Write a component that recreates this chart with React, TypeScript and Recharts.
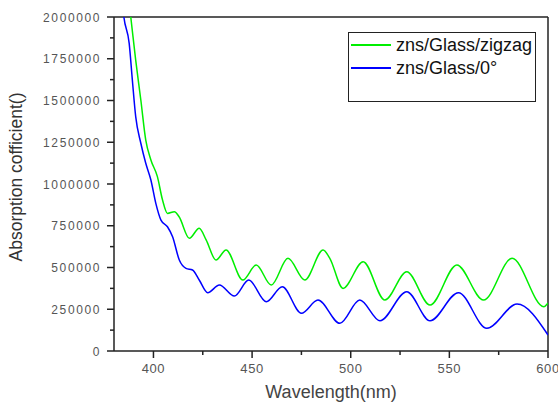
import React from 'react';
import { LineChart, Line, XAxis, YAxis, ReferenceLine, Legend } from 'recharts';

const greenName = 'zns/Glass/zigzag';
const blueName = 'zns/Glass/0°';

const greenWavelength = [387, 388.5, 391, 393.6, 396.1, 398.7, 402, 404.6, 407.1, 410.6, 413, 418.2, 423.2, 426.7, 431.7, 436.8, 445.3, 452.1, 459.7, 468.2, 476.7, 486, 489.4, 496.1, 506.3, 517.3, 528.4, 540.2, 553.8, 567.3, 581.8, 597.9, 600];
const greenValues = [2150000, 2000000, 1742000, 1503000, 1263000, 1144000, 1044000, 904000, 824000, 834000, 804000, 675000, 735000, 665000, 545000, 605000, 425000, 515000, 395000, 555000, 425000, 605000, 555000, 375000, 535000, 305000, 475000, 275000, 515000, 305000, 555000, 265000, 287000];

const blueWavelength = [383, 385, 387.7, 389.3, 391, 393.6, 396.1, 398.7, 401.2, 403.8, 407.1, 409.7, 413.1, 416.5, 419.8, 423.2, 427.5, 433.4, 441, 448.3, 457.2, 465.3, 475, 483.4, 494.5, 504.6, 514.8, 528.4, 540.2, 554.6, 569, 584.3, 600];
const blueValues = [2250000, 2000000, 1842000, 1623000, 1403000, 1244000, 1124000, 1024000, 884000, 784000, 744000, 684000, 545000, 495000, 485000, 425000, 349000, 395000, 329000, 425000, 295000, 385000, 226000, 305000, 166000, 305000, 181000, 355000, 181000, 349000, 136000, 281000, 96000];

const xTicks = [400, 425, 450, 475, 500, 525, 550, 575, 600];
const xMajor = [400, 450, 500, 550, 600];
const yTicks = [0, 125000, 250000, 375000, 500000, 625000, 750000, 875000, 1000000, 1125000, 1250000, 1375000, 1500000, 1625000, 1750000, 1875000, 2000000];

const greenData = greenWavelength.map((w, i) => ({ w, v: greenValues[i] }));
const blueData = blueWavelength.map((w, i) => ({ w, v: blueValues[i] }));

const FONT = '"Liberation Sans", Arial, sans-serif';
const AXIS = '#222';
const GREEN = '#00ee00';
const BLUE = '#0000ff';

const YTick = (props: any) => {
  const { x, y, payload } = props;
  const major = payload.value % 250000 === 0;
  return (
    <g>
      <line x1={x - (major ? 7 : 4)} x2={x} y1={y} y2={y} stroke={AXIS} strokeWidth={1.5} />
      {major && (
        <text x={x - 13} y={y + 4.5} textAnchor="end" fontSize={12} letterSpacing={1.6} fill="#555" fontFamily={FONT}>
          {payload.value}
        </text>
      )}
    </g>
  );
};

const XTick = (props: any) => {
  const { x, y, payload } = props;
  const major = xMajor.includes(payload.value);
  return (
    <g>
      <line x1={x} x2={x} y1={y} y2={y + (major ? 7 : 4)} stroke={AXIS} strokeWidth={1.5} />
      {major && (
        <text x={x} y={y + 22} textAnchor="middle" fontSize={13} letterSpacing={0.6} fill="#555" fontFamily={FONT}>
          {payload.value}
        </text>
      )}
    </g>
  );
};

const LegendBox = () => (
  <div style={{ width: 188, height: 70, border: `1.5px solid ${AXIS}`, boxSizing: 'border-box', background: '#fff', fontFamily: FONT, position: 'relative' }}>
    {[{ n: greenName, c: GREEN, t: 12 }, { n: blueName, c: BLUE, t: 35 }].map((it) => (
      <div key={it.n} style={{ position: 'absolute', left: 0, top: it.t - 11, height: 22, display: 'flex', alignItems: 'center' }}>
        <div style={{ width: 40, height: 2, background: it.c, marginLeft: 2, marginRight: 5 }} />
        <span style={{ fontSize: 18, color: '#111', whiteSpace: 'nowrap' }}>{it.n}</span>
      </div>
    ))}
  </div>
);

export default function App() {
  return (
    <div style={{ position: 'absolute', left: 0, top: 0, background: '#fff' }}>
      <LineChart width={558} height={405} margin={{ top: 17, right: 10, bottom: 0, left: 0 }}>
        <XAxis
          dataKey="w"
          type="number"
          domain={[380, 600]}
          ticks={xTicks}
          allowDataOverflow
          tickSize={0}
          tickMargin={0}
          tickLine={false}
          tick={<XTick />}
          height={54}
          stroke={AXIS}
          strokeWidth={1.5}
          interval={0}
          label={{ value: 'Wavelength(nm)', position: 'insideBottom', offset: 7, fontSize: 18, fill: '#444', fontFamily: FONT }}
        />
        <YAxis
          dataKey="v"
          type="number"
          domain={[0, 2000000]}
          ticks={yTicks}
          allowDataOverflow
          tickSize={0}
          tickMargin={0}
          tickLine={false}
          tick={<YTick />}
          width={114}
          stroke={AXIS}
          strokeWidth={1.5}
          interval={0}
          label={{
            value: 'Absorption cofficient()',
            content: () => (
              <text x={16} y={177} transform="rotate(-90 16 177)" textAnchor="middle" dominantBaseline="central" fontSize={17.5} fill="#333" fontFamily={FONT}>
                Absorption cofficient()
              </text>
            ),
          }}
        />
        <ReferenceLine y={2000000} stroke={AXIS} strokeWidth={1.5} />
        <ReferenceLine x={600} stroke={AXIS} strokeWidth={1.5} />
        <Line data={greenData} dataKey="v" name={greenName} type="monotone" stroke={GREEN} strokeWidth={1.5} dot={false} isAnimationActive={false} />
        <Line data={blueData} dataKey="v" name={blueName} type="monotone" stroke={BLUE} strokeWidth={1.5} dot={false} isAnimationActive={false} />
        <Legend
          layout="horizontal"
          verticalAlign="middle"
          align="center"
          content={<LegendBox />}
          wrapperStyle={{ position: 'absolute', left: 348, top: 32, width: 188, height: 70 }}
        />
      </LineChart>
    </div>
  );
}
